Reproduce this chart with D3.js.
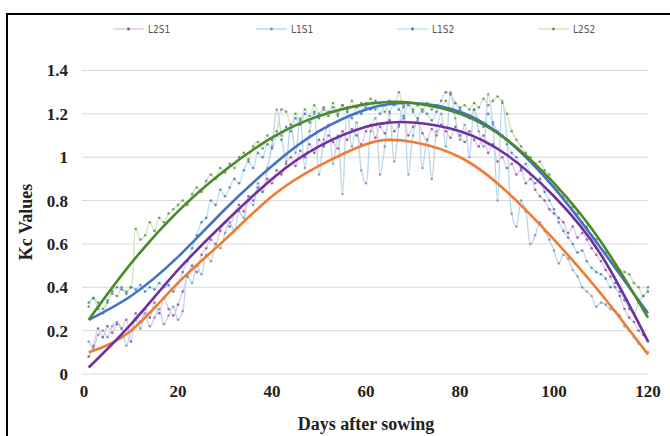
<!DOCTYPE html>
<html>
<head>
<meta charset="utf-8">
<script src="https://cdn.jsdelivr.net/npm/d3@7"></script>
<style>
  body { margin: 0; background: #fff; }
  svg { display: block; }
</style>
</head>
<body>
<div id="main"></div>
<script>
// daily Kc values, day 1..120
var L2S1 = [0.08,0.13,0.21,0.17,0.22,0.19,0.23,0.21,0.25,0.15,
  0.28,0.24,0.30,0.26,0.33,0.28,0.35,0.30,0.27,0.32,
  0.38,0.45,0.50,0.47,0.55,0.58,0.62,0.60,0.66,0.70,
  0.68,0.74,0.78,0.75,0.82,0.80,0.86,0.84,0.90,0.88,
  0.94,0.92,0.97,1.00,0.96,1.03,1.00,1.06,1.02,1.08,
  1.05,1.10,1.07,1.04,1.12,1.08,1.13,1.10,1.06,1.12,
  1.15,1.09,1.14,1.11,1.17,1.12,1.15,1.18,1.10,1.14,
  1.16,1.11,1.08,1.13,1.10,1.15,1.12,1.09,1.14,1.10,
  1.07,1.12,1.08,1.05,1.10,1.02,1.06,0.98,1.00,0.95,
  0.97,0.92,0.94,0.88,0.90,0.85,0.82,0.80,0.76,0.74,
  0.72,0.70,0.65,0.68,0.63,0.65,0.62,0.58,0.55,0.52,
  0.48,0.45,0.40,0.36,0.30,0.26,0.24,0.20,0.18,0.15];

var L1S1 = [0.15,0.12,0.18,0.20,0.17,0.22,0.24,0.21,0.13,0.20,
  0.25,0.21,0.28,0.22,0.26,0.30,0.23,0.27,0.31,0.25,
  0.29,0.45,0.42,0.50,0.46,0.55,0.52,0.60,0.58,0.65,
  0.70,0.66,0.75,0.72,0.80,0.78,0.88,0.84,0.95,1.05,
  1.22,1.10,0.98,1.15,1.02,1.18,0.95,1.12,1.20,0.92,
  1.08,1.15,0.97,1.10,0.83,1.23,1.05,1.16,0.94,0.88,
  1.12,1.18,0.92,1.05,1.20,0.98,1.14,1.24,0.92,1.10,
  1.17,0.95,1.08,0.90,1.12,1.20,1.05,1.30,1.18,1.08,
  1.15,1.00,1.22,1.12,1.05,1.29,1.15,0.80,1.26,1.08,
  0.74,0.68,0.80,0.75,0.60,0.64,0.70,0.66,0.62,0.57,
  0.51,0.55,0.53,0.48,0.45,0.40,0.38,0.36,0.31,0.33,
  0.32,0.30,0.29,0.27,0.22,0.20,0.17,0.14,0.12,0.10];

var L1S2 = [0.33,0.35,0.30,0.28,0.33,0.38,0.40,0.39,0.37,0.40,
  0.39,0.41,0.38,0.40,0.39,0.42,0.40,0.41,0.38,0.42,
  0.47,0.52,0.58,0.64,0.70,0.72,0.80,0.78,0.85,0.82,
  0.86,0.90,0.88,0.94,0.98,0.95,1.02,1.00,1.06,1.04,
  1.10,1.08,1.14,1.12,1.18,1.15,1.20,1.16,1.21,1.18,
  1.22,1.19,1.23,1.20,1.24,1.21,1.18,1.23,1.20,1.25,
  1.22,1.26,1.20,1.24,1.21,1.25,1.22,1.19,1.24,1.21,
  1.18,1.22,1.20,1.17,1.21,1.26,1.30,1.29,1.25,1.22,
  1.20,1.18,1.22,1.17,1.14,1.20,1.16,1.12,1.10,1.06,
  1.02,1.00,0.95,0.97,0.92,0.88,0.90,0.84,0.80,0.76,
  0.70,0.66,0.63,0.60,0.56,0.57,0.52,0.49,0.47,0.46,
  0.44,0.40,0.42,0.38,0.34,0.30,0.28,0.33,0.36,0.38];

var L2S2 = [0.31,0.35,0.33,0.30,0.34,0.37,0.36,0.40,0.38,0.40,
  0.67,0.62,0.64,0.70,0.66,0.72,0.70,0.74,0.76,0.78,
  0.80,0.78,0.83,0.86,0.84,0.89,0.92,0.90,0.95,0.93,
  0.97,0.95,1.00,1.02,0.99,1.05,1.07,1.04,1.10,1.08,
  1.12,1.22,1.21,1.15,1.20,1.17,1.22,1.19,1.24,1.20,
  1.23,1.21,1.25,1.19,1.24,1.22,1.26,1.20,1.25,1.23,
  1.27,1.22,1.25,1.21,1.26,1.24,1.30,1.23,1.25,1.22,
  1.24,1.21,1.25,1.22,1.24,1.23,1.26,1.22,1.25,1.23,
  1.24,1.22,1.25,1.23,1.27,1.24,1.26,1.28,1.25,1.20,
  1.12,1.08,1.05,1.02,1.00,0.97,0.98,0.94,0.92,0.88,
  0.85,0.82,0.80,0.77,0.74,0.70,0.68,0.64,0.62,0.58,
  0.56,0.52,0.50,0.48,0.47,0.46,0.42,0.40,0.36,0.40];

// trend lines
var trendDays = [1,10,20,30,40,50,60,65,70,80,90,100,110,120];
var trendL2S2 = [0.25,0.51,0.75,0.94,1.09,1.19,1.245,1.255,1.25,1.20,1.08,0.88,0.61,0.26];
var trendL1S2 = [0.25,0.36,0.54,0.76,0.96,1.12,1.22,1.245,1.25,1.21,1.08,0.86,0.58,0.28];
var trendL2S1 = [0.03,0.23,0.48,0.70,0.90,1.05,1.14,1.16,1.16,1.12,1.01,0.82,0.55,0.15];
var trendL1S1 = [0.10,0.20,0.42,0.62,0.82,0.96,1.06,1.08,1.07,1.00,0.84,0.62,0.37,0.09];

var xTicks = [0,20,40,60,80,100,120];
var yTicks = [0,0.2,0.4,0.6,0.8,1,1.2,1.4];

var width = 670, height = 436;

var svg = d3.select("#main").append("svg")
  .attr("width", width)
  .attr("height", height);

// outer frame
svg.append("rect")
  .attr("x", 7).attr("y", 14)
  .attr("width", 700).attr("height", 500)
  .attr("fill", "none")
  .attr("stroke", "#000")
  .attr("stroke-width", 2);

var x = d3.scaleLinear().domain([0, 120]).range([84, 648]);
var y = d3.scaleLinear().domain([0, 1.4]).range([374, 70.5]);

// gridlines
svg.append("g")
  .selectAll("line")
  .data(yTicks)
  .join("line")
    .attr("x1", 82).attr("x2", 648)
    .attr("y1", d => y(d)).attr("y2", d => y(d))
    .attr("stroke", "#d9d9d9")
    .attr("stroke-width", 1);

// tick labels
svg.append("g")
  .attr("font-family", "'Liberation Serif', serif")
  .attr("font-weight", "bold")
  .attr("font-size", 17)
  .attr("fill", "#222")
  .selectAll("text")
  .data(yTicks)
  .join("text")
    .attr("x", 68)
    .attr("y", d => y(d))
    .attr("dy", "0.35em")
    .attr("text-anchor", "end")
    .text(d => d);

svg.append("g")
  .attr("font-family", "'Liberation Serif', serif")
  .attr("font-weight", "bold")
  .attr("font-size", 17)
  .attr("fill", "#222")
  .selectAll("text")
  .data(xTicks)
  .join("text")
    .attr("x", d => x(d))
    .attr("y", 397)
    .attr("text-anchor", "middle")
    .text(d => d);

svg.append("text")
  .attr("transform", "translate(32,222) rotate(-90)")
  .attr("text-anchor", "middle")
  .attr("font-family", "'Liberation Serif', serif")
  .attr("font-weight", "bold")
  .attr("font-size", 18)
  .attr("fill", "#222")
  .text("Kc Values");

svg.append("text")
  .attr("x", 366).attr("y", 430)
  .attr("text-anchor", "middle")
  .attr("font-family", "'Liberation Serif', serif")
  .attr("font-weight", "bold")
  .attr("font-size", 18)
  .attr("fill", "#222")
  .text("Days after sowing");

var series = [
  {name: "L2S1", values: L2S1, line: "#e3c9ea", dot: "#7b4f92"},
  {name: "L1S1", values: L1S1, line: "#bcd7ec", dot: "#8192a6"},
  {name: "L1S2", values: L1S2, line: "#bfe2f2", dot: "#3f72b5"},
  {name: "L2S2", values: L2S2, line: "#d3e6c4", dot: "#5e8c45"}
];

var line = d3.line()
  .x((d, i) => x(i + 1))
  .y(d => y(d))
  .curve(d3.curveCatmullRom);

series.forEach(function(s) {
  svg.append("path")
    .datum(s.values)
    .attr("fill", "none")
    .attr("stroke", s.line)
    .attr("stroke-width", 1.4)
    .attr("d", line);
});
series.forEach(function(s) {
  svg.append("g")
    .selectAll("circle")
    .data(s.values)
    .join("circle")
      .attr("cx", (d, i) => x(i + 1))
      .attr("cy", d => y(d))
      .attr("r", 1.3)
      .attr("fill", s.dot)
      .attr("opacity", 0.8);
});

// trend lines
var trends = [
  {values: trendL1S1, color: "#f07b32"},
  {values: trendL2S1, color: "#7030a0"},
  {values: trendL1S2, color: "#4472c4"},
  {values: trendL2S2, color: "#4a8a2a"}
];
var trendLine = d3.line()
  .x((d, i) => x(trendDays[i]))
  .y(d => y(d))
  .curve(d3.curveNatural);

svg.append("g")
  .selectAll("path")
  .data(trends)
  .join("path")
    .attr("fill", "none")
    .attr("stroke", d => d.color)
    .attr("stroke-width", 2.6)
    .attr("d", d => trendLine(d.values));

// legend
var legendX = [113, 256, 397, 538];
var legend = svg.append("g")
  .selectAll("g")
  .data(series)
  .join("g")
    .attr("transform", (d, i) => "translate(" + legendX[i] + ",29)");
legend.append("line")
  .attr("x1", 0).attr("x2", 31)
  .attr("stroke", d => d.line)
  .attr("stroke-width", 1.5);
legend.append("circle")
  .attr("cx", 15.5).attr("r", 1.4)
  .attr("fill", d => d.dot);
legend.append("text")
  .attr("x", 35)
  .attr("dy", "0.35em")
  .attr("font-family", "'DejaVu Sans Condensed', 'Liberation Sans Narrow', sans-serif")
  .attr("font-size", 10)
  .attr("fill", "#555")
  .text(d => d.name);
</script>
</body>
</html>
